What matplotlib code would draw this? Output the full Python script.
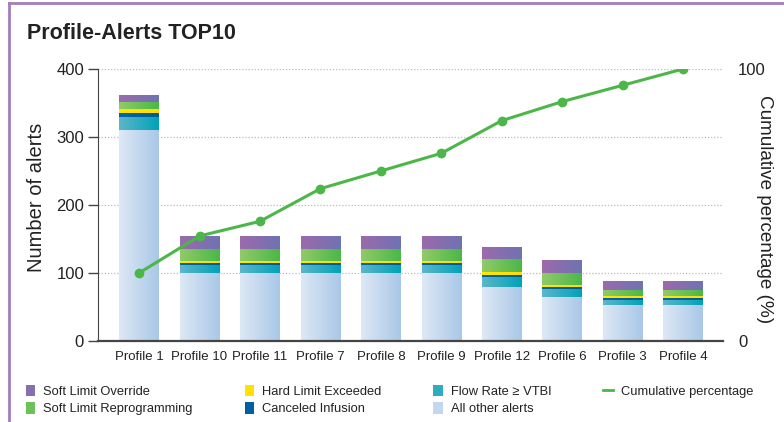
import numpy as np
import matplotlib
matplotlib.use('Agg')
import matplotlib.pyplot as plt
from matplotlib.colors import LinearSegmentedColormap
from matplotlib.lines import Line2D
from matplotlib.patches import Patch

plt.rcParams['font.family'] = ['Liberation Sans', 'DejaVu Sans']

profiles = ['Profile 1', 'Profile 10', 'Profile 11', 'Profile 7', 'Profile 8',
            'Profile 9', 'Profile 12', 'Profile 6', 'Profile 3', 'Profile 4']
all_other = [310, 100, 100, 100, 100, 100, 80, 65, 53, 53]
flow_rate = [19, 12, 12, 12, 12, 12, 14, 11, 7, 7]
canceled = [6, 3, 3, 3, 3, 3, 3, 3, 3, 3]
hard_limit = [6, 3, 3, 3, 3, 3, 4, 3, 3, 3]
soft_reprog = [10, 18, 18, 18, 18, 18, 20, 18, 9, 9]
soft_override = [9, 18, 18, 18, 18, 18, 17, 18, 13, 13]
cumulative = [25, 38.6, 44, 56, 62.5, 69, 81, 88, 94, 100]

# name, values, left colour, right colour
series = [
    ('All other alerts', all_other, '#dde8f5', '#a9c8e7'),
    ('Flow Rate \u2265 VTBI', flow_rate, '#5db6ca', '#00a2b8'),
    ('Canceled Infusion', canceled, '#0066a8', '#005a98'),
    ('Hard Limit Exceeded', hard_limit, '#ffe800', '#ffdc00'),
    ('Soft Limit Reprogramming', soft_reprog, '#90cb68', '#4bb748'),
    ('Soft Limit Override', soft_override, '#9c6aab', '#6f73b3'),
]
line_color = '#4cb748'
text_color = '#222222'

fig = plt.figure(figsize=(7.84, 4.22), dpi=100)
ax = fig.add_axes([0.125, 0.192, 0.797, 0.6445])

x = np.arange(len(profiles))
width = 0.65
bottom = np.zeros(len(profiles))
grad = np.linspace(0, 1, 64).reshape(1, -1)
handles = {}
for name, vals, c1, c2 in series:
    bars = ax.bar(x, vals, width, bottom=bottom, color=c1, linewidth=0, zorder=2)
    cmap = LinearSegmentedColormap.from_list(name, [c1, c2])
    for b in bars:
        x0, y0 = b.get_x(), b.get_y()
        ax.imshow(grad, cmap=cmap, aspect='auto', zorder=2.5,
                  extent=[x0, x0 + b.get_width(), y0, y0 + b.get_height()])
    bottom += np.array(vals)
    handles[name] = Patch(facecolor=cmap(0.5), edgecolor='none')

ax.set_xlim(-0.68, len(profiles) - 1 + 0.66)
ax.set_ylim(0, 400)
ax.set_yticks([0, 100, 200, 300, 400])
ax.set_xticks(x)
ax.set_xticklabels(profiles, fontsize=9.5, color=text_color)
ax.tick_params(axis='x', length=0, pad=7)
ax.tick_params(axis='y', length=7, width=1, color='#444444', labelsize=12,
               labelcolor=text_color, pad=3)
for yv in [100, 200, 300, 400]:
    ax.axhline(yv, color='#bbbbbb', linestyle=(0, (1, 1.5)), linewidth=0.9, zorder=1)
for s in ['top', 'right']:
    ax.spines[s].set_visible(False)
ax.spines['left'].set_color('#444444')
ax.spines['bottom'].set_color('#444444')
ax.spines['bottom'].set_linewidth(1.6)
ax.set_ylabel('Number of alerts', fontsize=14.5, color=text_color)
ax.yaxis.set_label_coords(-0.084, 0.528)

ax2 = ax.twinx()
ax2.plot(x, cumulative, color=line_color, linewidth=2.2, marker='o', markersize=6, zorder=5)
ax2.set_ylim(0, 100)
ax2.set_yticks([0, 100])
ax2.tick_params(axis='y', length=0, labelsize=12, labelcolor=text_color, pad=11)
for s in ax2.spines.values():
    s.set_visible(False)
ax2.set_ylabel('Cumulative percentage (%)', fontsize=13.6, color=text_color,
               rotation=270, va='bottom')
ax2.yaxis.set_label_coords(1.053, 0.485)

fig.text(0.034, 0.92, 'Profile-Alerts TOP10', fontsize=15.5, fontweight='bold',
         color=text_color, va='center')

# purple frame on the left and top edges
fig.add_artist(Line2D([0.011, 0.011], [0, 0.993], color='#a47dba', linewidth=2,
                      transform=fig.transFigure))
fig.add_artist(Line2D([0.011, 1], [0.993, 0.993], color='#a47dba', linewidth=2,
                      transform=fig.transFigure))

order = ['Soft Limit Override', 'Soft Limit Reprogramming',
         'Hard Limit Exceeded', 'Canceled Infusion',
         'Flow Rate \u2265 VTBI', 'All other alerts']
leg_handles = [handles[n] for n in order] + [Line2D([], [], color=line_color, linewidth=2)]
leg_labels = order + ['Cumulative percentage']
fig.legend(leg_handles, leg_labels, ncol=4, loc='lower left',
           bbox_to_anchor=(0.0185, -0.012), frameon=False, fontsize=9.3,
           handlelength=0.7, handleheight=0.95, handletextpad=0.62,
           columnspacing=4.05, labelspacing=0.38, labelcolor=text_color)

fig.savefig('out.png', dpi=100)
